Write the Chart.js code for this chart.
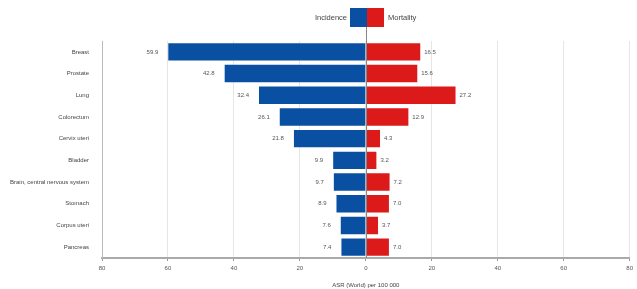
<!DOCTYPE html>
<html>
<head>
<meta charset="utf-8">
<script src="https://cdn.jsdelivr.net/npm/chart.js@4"></script>
<style>
  body { margin: 0; background: #fff; }
  #wrap { position: relative; width: 637px; height: 289px; }
  .lg { position: absolute; font: 7.5px "Liberation Sans", Arial, sans-serif; color: #444; top: 13px; }
  .box { position: absolute; top: 8px; width: 17px; height: 19px; }
</style>
</head>
<body>
<div id="wrap">
  <canvas id="myChart" width="637" height="289"></canvas>
  <div class="lg" style="right:290px">Incidence</div>
  <div class="box" style="left:350px;background:#0a50a2"></div>
  <div class="box" style="left:367px;background:#dc1a1a"></div>
  <div class="lg" style="left:388px">Mortality</div>
</div>
<script>
const cancers = ['Breast', 'Prostate', 'Lung', 'Colorectum', 'Cervix uteri', 'Bladder',
  'Brain, central nervous system', 'Stomach', 'Corpus uteri', 'Pancreas'];
const incidence = [59.9, 42.8, 32.4, 26.1, 21.8, 9.9, 9.7, 8.9, 7.6, 7.4];
const mortality = [16.5, 15.6, 27.2, 12.9, 4.3, 3.2, 7.2, 7.0, 3.7, 7.0];
const xTicks = [-80, -60, -40, -20, 0, 20, 40, 60, 80];

const font = { family: '"Liberation Sans", Arial, sans-serif', size: 6 };

// value labels + zero line up to the legend
const extras = {
  id: 'extras',
  afterDatasetsDraw(chart) {
    const c = chart.ctx, x = chart.scales.x, area = chart.chartArea;
    c.save();
    c.strokeStyle = '#888';
    c.lineWidth = 1;
    c.beginPath();
    c.moveTo(Math.round(x.getPixelForValue(0)) + 0.5, 27);
    c.lineTo(Math.round(x.getPixelForValue(0)) + 0.5, area.bottom);
    c.stroke();
    c.font = font.size + 'px ' + font.family;
    c.fillStyle = '#555';
    c.textBaseline = 'middle';
    chart.getDatasetMeta(0).data.forEach((b, i) => {
      c.textAlign = 'right';
      c.fillText(incidence[i].toFixed(1), b.x - 10, b.y);
    });
    chart.getDatasetMeta(1).data.forEach((b, i) => {
      c.textAlign = 'left';
      c.fillText(mortality[i].toFixed(1), b.x + 4, b.y);
    });
    c.restore();
  }
};

const ctx = document.getElementById('myChart');

new Chart(ctx, {
  type: 'bar',
  data: {
    labels: cancers,
    datasets: [{
      label: 'Incidence',
      data: incidence.map(v => -v),
      backgroundColor: '#0a50a2',
      barPercentage: 0.8,
      categoryPercentage: 1
    }, {
      label: 'Mortality',
      data: mortality,
      backgroundColor: '#dc1a1a',
      barPercentage: 0.8,
      categoryPercentage: 1
    }]
  },
  options: {
    indexAxis: 'y',
    responsive: false,
    animation: false,
    layout: { padding: { top: 41, right: 7, left: 0, bottom: 0 } },
    plugins: { legend: { display: false }, tooltip: { enabled: false } },
    scales: {
      x: {
        stacked: true,
        min: -80, max: 80,
        afterBuildTicks: s => { s.ticks = xTicks.map(v => ({ value: v })); },
        afterFit: s => { s.height = 31; },
        ticks: {
          font: font, color: '#555', padding: 4,
          callback: v => Math.abs(v)
        },
        grid: { color: '#e6e6e6', tickLength: 3, tickColor: '#999' },
        border: { color: '#aaa', width: 2 },
        title: { display: true, text: 'ASR (World) per 100 000', font: font, color: '#444', padding: { top: 3, bottom: 0 } }
      },
      y: {
        stacked: true,
        afterFit: s => { s.width = 102; },
        ticks: { font: font, color: '#444', padding: 5 },
        grid: { display: false },
        border: { color: '#bbb', width: 1 }
      }
    }
  },
  plugins: [extras]
});
</script>
</body>
</html>
